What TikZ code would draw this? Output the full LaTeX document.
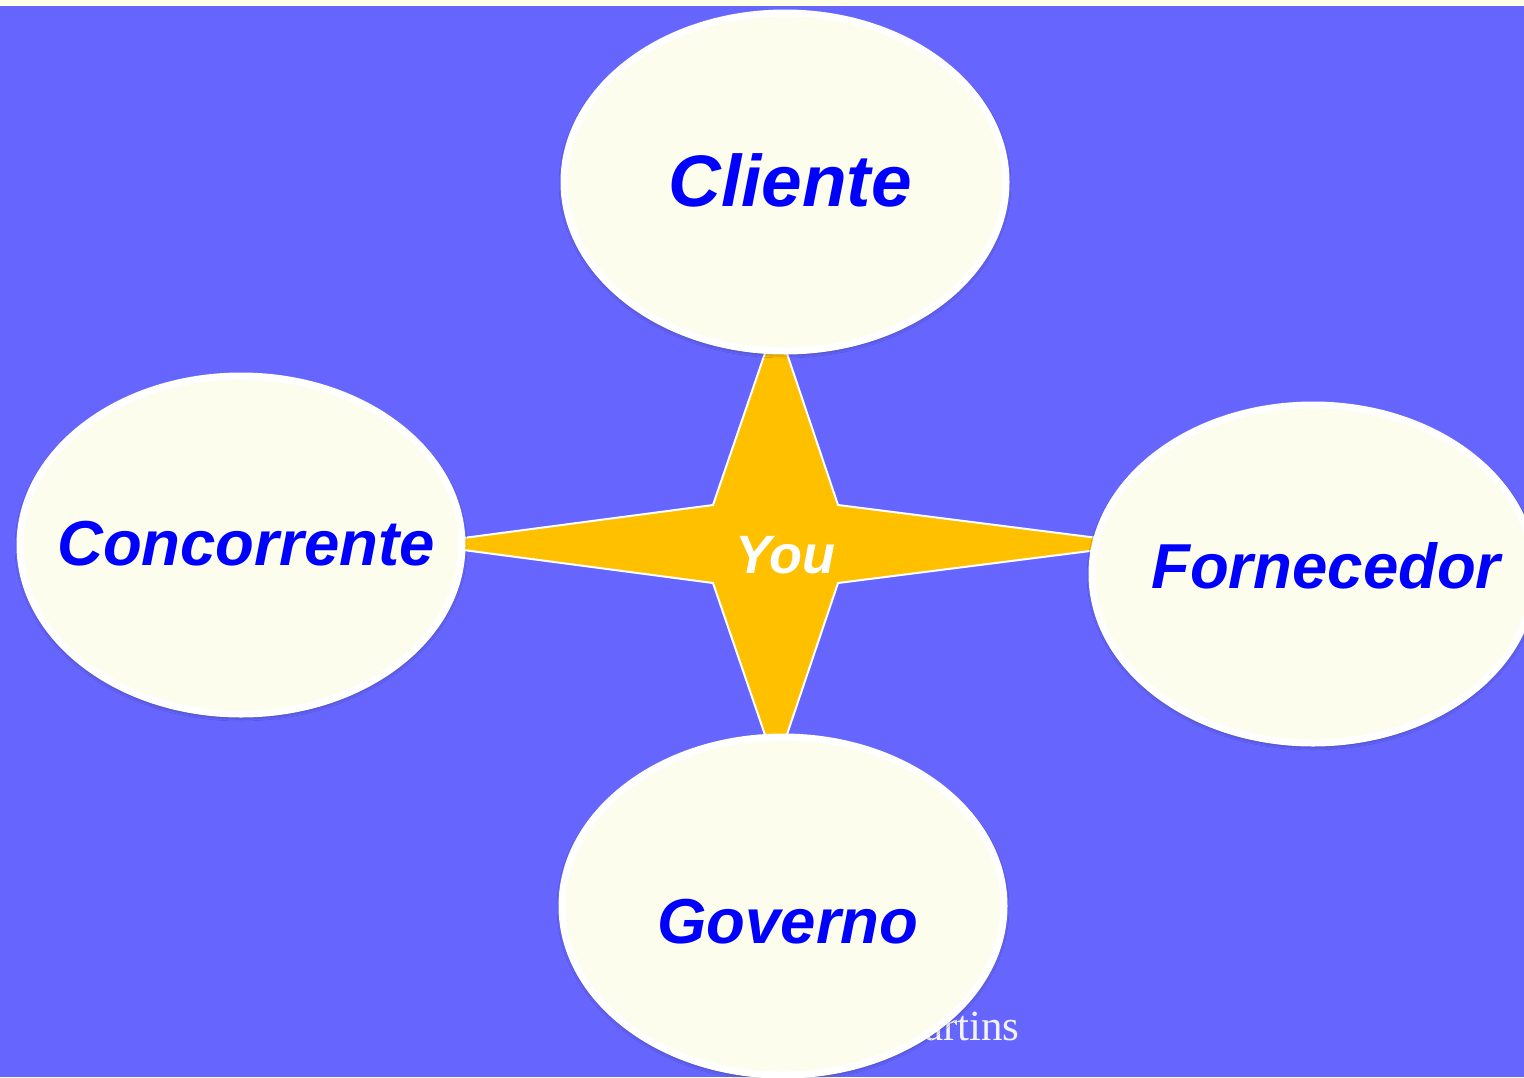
\documentclass[tikz,border=0pt]{standalone}
\usepackage{fontspec}
\setmainfont{Liberation Sans}
\newfontfamily\creditfont{Liberation Serif}
\usetikzlibrary{shapes.geometric}
\usetikzlibrary{shadows.blur}

\definecolor{slideblue}{HTML}{6666FF}
\definecolor{cream}{HTML}{FDFDEE}
\definecolor{topstrip}{HTML}{FFFFE8}
\definecolor{starfill}{HTML}{FFC000}
\definecolor{labelblue}{HTML}{0000FF}

\tikzset{
  party/.style={ellipse, fill=cream, draw=white, line width=3.5pt,
    minimum width=221pt, minimum height=169pt, inner sep=0pt,
    blur shadow={shadow xshift=0pt, shadow yshift=-1pt, shadow blur radius=2.5pt, shadow opacity=60}},
  partyname/.style={anchor=base, inner sep=0pt, text=labelblue,
    font=\bfseries\itshape\fontsize{31.75}{36}\selectfont},
}

\begin{document}
\begin{tikzpicture}[x=0.5pt, y=-0.5pt]
  \useasboundingbox (0,0) rectangle (1524,1077);
  \fill [color=topstrip] (0,0) rectangle (1524,6);
  \fill [color=slideblue] (0,6) rectangle (1524,1077);

  % four-pointed star behind the ellipses
  \draw [fill=starfill, draw=white, line width=1pt]
    (776,321) -- (838,505) -- (1145,544) -- (838,583) -- (776,767)
    -- (713,583) -- (418,544) -- (713,505) -- cycle;
  \node [anchor=base, inner sep=0pt, text=white,
    font=\bfseries\itshape\fontsize{27}{30}\selectfont] (you) at (785,573) {You};

  % footer, partly hidden
  \node [anchor=base east, inner sep=0pt, text=white!92!slideblue,
    font=\creditfont\fontsize{21.5}{24}\selectfont] (credit) at (1020,1040) {artins};

  % ellipses
  \node [party] (cliente) at (785,182) {};
  \node [party] (concorrente) at (241,545) {};
  \node [party] (fornecedor) at (1313,574) {};
  \node [party] (governo) at (783,906) {};

  \node [partyname, font=\bfseries\itshape\fontsize{36.5}{40}\selectfont] (clientetxt) at (790,206) {Cliente};
  \node [partyname] (concorrentetxt) at (246,565) {Concorrente};
  \node [partyname] (fornecedortxt) at (1326,588) {Fornecedor};
  \node [partyname] (governotxt) at (788,943) {Governo};
\end{tikzpicture}
\end{document}
